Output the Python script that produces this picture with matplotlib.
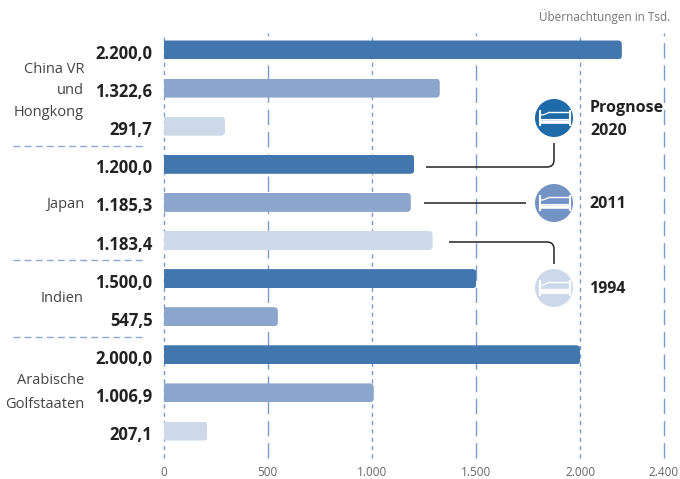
import matplotlib
matplotlib.use("Agg")
import matplotlib.pyplot as plt
from matplotlib.patches import FancyBboxPatch, Circle, PathPatch
from matplotlib.path import Path
from matplotlib.transforms import ScaledTranslation

plt.rcParams['font.family'] = ['Open Sans', 'DejaVu Sans']

value_labels = ["2.200,0", "1.322,6", "291,7", "1.200,0", "1.185,3", "1.183,4",
                "1.500,0", "547,5", "2.000,0", "1.006,9", "207,1"]
bar_values = [2200, 1326, 295, 1204, 1187, 1292, 1502, 549, 2000, 1009, 211]
series = ["p", "m", "l", "p", "m", "l", "p", "m", "p", "m", "l"]
colors = {"p": "#4277ad", "m": "#8ba5cd", "l": "#cdd9e9"}
x_ticks = [0, 500, 1000, 1500, 2000, 2400]
x_labels = ["0", "500", "1.000", "1.500", "2.000", "2.400"]
grid_dashes = [(3, 3), (11, 5), (3, 3), (11, 5), (3, 3), (11, 5)]

W, H = 680, 479
X0, X1, Y0, Y1 = 163.5, 663.5, 33, 458
ROW0, ROWH = 50, 38.1
fig = plt.figure(figsize=(W / 100, H / 100), dpi=100)
ax = fig.add_axes([X0 / W, 1 - Y1 / H, (X1 - X0) / W, (Y1 - Y0) / H])
ax.set_xlim(0, 2400)
ax.set_ylim((Y1 - ROW0) / ROWH, (Y0 - ROW0) / ROWH)
for s in ax.spines.values():
    s.set_visible(False)

for t, d in zip(x_ticks, grid_dashes):
    ax.axvline(t, color="#7c9bcd", lw=1.0, dashes=d, zorder=1, clip_on=False)

rows = list(range(len(bar_values)))
bars = ax.barh(rows, bar_values, height=19 / ROWH, color=[colors[s] for s in series], zorder=2)
px_x = (X1 - X0) / 2400
r = 4 / px_x
aspect = (4 / ROWH) / r
for rect in bars:
    clip = FancyBboxPatch((-100, rect.get_y()), rect.get_width() + 100, rect.get_height(),
                          boxstyle=f"round,pad=0,rounding_size={r}", mutation_aspect=aspect,
                          transform=ax.transData)
    rect.set_clip_path(clip)

ax.set_yticks(rows, value_labels, fontsize=12, fontweight="bold", color="#222222")
ax.set_xticks(x_ticks, x_labels, fontsize=8.5, color="#666666")
ax.tick_params(axis="both", length=0)
ax.tick_params(axis="y", pad=8)
ax.tick_params(axis="x", pad=6)
shift = ScaledTranslation(0, -2 / 100, fig.dpi_scale_trans)
for lab in ax.get_yticklabels():
    lab.set_transform(lab.get_transform() + shift)

ov = fig.add_axes([0, 0, 1, 1], facecolor="none")
ov.set_xlim(0, W)
ov.set_ylim(H, 0)
ov.axis("off")

ov.text(670, 17, "Übernachtungen in Tsd.", ha="right", va="center", fontsize=8.5, color="#777777")

group_labels = [("China VR", 69), ("und", 90), ("Hongkong", 112), ("Japan", 204),
                ("Indien", 298), ("Arabische", 381), ("Golfstaaten", 404)]
for txt, y in group_labels:
    ov.text(84, y, txt, ha="right", va="center", fontsize=10.5, color="#444444")

for y in (146, 260, 337):
    ov.plot([13, 143], [y, y], color="#8fa8d0", lw=1.0, dashes=(5, 3))


def connector(points, codes):
    ov.add_patch(PathPatch(Path(points, codes), fc="none", ec="#222222", lw=1.1))


M, L, C = Path.MOVETO, Path.LINETO, Path.CURVE3
connector([(426, 167), (547, 167), (554, 167), (554, 160), (554, 143)], [M, L, C, C, L])
connector([(424, 203), (526, 203)], [M, L])
connector([(449, 242), (547, 242), (554, 242), (554, 249), (554, 264)], [M, L, C, C, L])


def bed(cx, cy, col):
    ov.add_patch(Circle((cx, cy), 19, fc=col, ec="none"))
    w = "white"
    ov.plot([cx - 14.5, cx - 14.5], [cy - 8, cy + 8], color=w, lw=1.5, solid_capstyle="butt")
    ov.plot([cx + 16, cx + 16], [cy - 8, cy + 8], color=w, lw=1.5, solid_capstyle="butt")
    ov.plot([cx - 14.5, cx + 16], [cy + 4, cy + 4], color=w, lw=2.6, solid_capstyle="butt")
    ov.plot([cx - 5, cx + 15], [cy - 6, cy - 6], color=w, lw=1.0)
    ov.add_patch(PathPatch(Path([(cx - 13, cy - 3), (cx - 8, cy - 3), (cx - 5, cy - 6)],
                                [M, C, C]), fc="none", ec=w, lw=0.9))
    ov.plot([cx - 13, cx + 15], [cy + 1, cy + 1], color=w, lw=0.8)


bed(554, 118, "#1f6aa8")
bed(554, 203, "#7393c4")
bed(554, 288, "#cdd9ea")

ov.text(590, 108, "Prognose", fontsize=11.5, fontweight="bold", color="#222222", va="center")
ov.text(590, 131, "2020", fontsize=11.5, fontweight="bold", color="#222222", va="center")
ov.text(589, 204, "2011", fontsize=11.5, fontweight="bold", color="#222222", va="center")
ov.text(589, 289, "1994", fontsize=11.5, fontweight="bold", color="#222222", va="center")

fig.savefig("out.png", dpi=100)
